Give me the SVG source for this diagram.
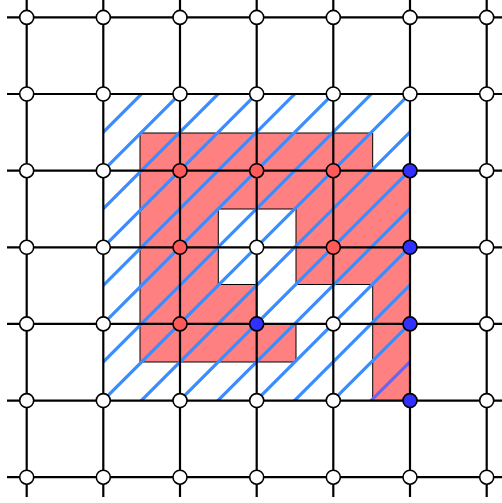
<svg xmlns="http://www.w3.org/2000/svg" width="502" height="503" viewBox="0 0 502 503">
<defs>
<clipPath id="hatchClip"><rect x="103.3" y="94" width="306.7" height="306.6"/></clipPath>
<style>
.grid line{stroke:#000;stroke-width:2.2;}
.node{stroke:#000;stroke-width:1.6;}
.w{fill:#fff;}
.r{fill:#ff5a5a;}
.b{fill:#3030ff;}
.stripe{fill:none;stroke:#3a8cff;stroke-width:3.2;}
.stripe2{fill:none;stroke:#6a64f0;stroke-width:3.2;}
.region{fill:#ff8080;stroke:#000;stroke-width:1;}
</style>
</defs>
<rect width="502" height="503" fill="#fff"/>
<g id="region">
<polygon class="region" points="140,133 372.7,133 372.7,170.7 410,170.7 410,400.6 372.7,400.6 372.7,284.5 296,284.5 296,209 218.3,209 218.3,284.5 256.7,284.5 256.7,323.9 296,323.9 296,362 140,362"/>
</g>
<g id="hatch" clip-path="url(#hatchClip)">
<path class="stripe" d="M-264.5,500L235.5,0M-226.2,500L273.8,0M-187.9,500L312.1,0M-149.6,500L350.4,0M-111.3,500L388.7,0M-73,500L427,0M-34.7,500L465.3,0M3.6,500L503.6,0M41.9,500L541.9,0M80.2,500L580.2,0M118.5,500L618.5,0M156.8,500L656.8,0M195.1,500L695.1,0M233.4,500L733.4,0"/>
<path class="stripe2" d="M271.7,500L771.7,0"/>
</g>
<g id="connectors" class="grid">
<line x1="7" y1="17.4" x2="506" y2="17.4"/>
<line x1="7" y1="94" x2="506" y2="94"/>
<line x1="7" y1="170.7" x2="506" y2="170.7"/>
<line x1="7" y1="247.3" x2="506" y2="247.3"/>
<line x1="7" y1="323.9" x2="506" y2="323.9"/>
<line x1="7" y1="400.6" x2="506" y2="400.6"/>
<line x1="7" y1="477.2" x2="506" y2="477.2"/>
<line x1="26.7" y1="-3" x2="26.7" y2="497"/>
<line x1="103.3" y1="-3" x2="103.3" y2="497"/>
<line x1="180" y1="-3" x2="180" y2="497"/>
<line x1="256.7" y1="-3" x2="256.7" y2="497"/>
<line x1="333.3" y1="-3" x2="333.3" y2="497"/>
<line x1="410" y1="-3" x2="410" y2="497"/>
<line x1="486.7" y1="-3" x2="486.7" y2="497"/>
</g>
<g id="nodes">
<g id="n00"><circle class="node w" cx="26.7" cy="17.4" r="7"/></g>
<g id="n10"><circle class="node w" cx="103.3" cy="17.4" r="7"/></g>
<g id="n20"><circle class="node w" cx="180" cy="17.4" r="7"/></g>
<g id="n30"><circle class="node w" cx="256.7" cy="17.4" r="7"/></g>
<g id="n40"><circle class="node w" cx="333.3" cy="17.4" r="7"/></g>
<g id="n50"><circle class="node w" cx="410" cy="17.4" r="7"/></g>
<g id="n60"><circle class="node w" cx="486.7" cy="17.4" r="7"/></g>
<g id="n01"><circle class="node w" cx="26.7" cy="94" r="7"/></g>
<g id="n11"><circle class="node w" cx="103.3" cy="94" r="7"/></g>
<g id="n21"><circle class="node w" cx="180" cy="94" r="7"/></g>
<g id="n31"><circle class="node w" cx="256.7" cy="94" r="7"/></g>
<g id="n41"><circle class="node w" cx="333.3" cy="94" r="7"/></g>
<g id="n51"><circle class="node w" cx="410" cy="94" r="7"/></g>
<g id="n61"><circle class="node w" cx="486.7" cy="94" r="7"/></g>
<g id="n02"><circle class="node w" cx="26.7" cy="170.7" r="7"/></g>
<g id="n12"><circle class="node w" cx="103.3" cy="170.7" r="7"/></g>
<g id="n22"><circle class="node r" cx="180" cy="170.7" r="7"/></g>
<g id="n32"><circle class="node r" cx="256.7" cy="170.7" r="7"/></g>
<g id="n42"><circle class="node r" cx="333.3" cy="170.7" r="7"/></g>
<g id="n52"><circle class="node b" cx="410" cy="170.7" r="7"/></g>
<g id="n62"><circle class="node w" cx="486.7" cy="170.7" r="7"/></g>
<g id="n03"><circle class="node w" cx="26.7" cy="247.3" r="7"/></g>
<g id="n13"><circle class="node w" cx="103.3" cy="247.3" r="7"/></g>
<g id="n23"><circle class="node r" cx="180" cy="247.3" r="7"/></g>
<g id="n33"><circle class="node w" cx="256.7" cy="247.3" r="7"/></g>
<g id="n43"><circle class="node r" cx="333.3" cy="247.3" r="7"/></g>
<g id="n53"><circle class="node b" cx="410" cy="247.3" r="7"/></g>
<g id="n63"><circle class="node w" cx="486.7" cy="247.3" r="7"/></g>
<g id="n04"><circle class="node w" cx="26.7" cy="323.9" r="7"/></g>
<g id="n14"><circle class="node w" cx="103.3" cy="323.9" r="7"/></g>
<g id="n24"><circle class="node r" cx="180" cy="323.9" r="7"/></g>
<g id="n34"><circle class="node b" cx="256.7" cy="323.9" r="7"/></g>
<g id="n44"><circle class="node w" cx="333.3" cy="323.9" r="7"/></g>
<g id="n54"><circle class="node b" cx="410" cy="323.9" r="7"/></g>
<g id="n64"><circle class="node w" cx="486.7" cy="323.9" r="7"/></g>
<g id="n05"><circle class="node w" cx="26.7" cy="400.6" r="7"/></g>
<g id="n15"><circle class="node w" cx="103.3" cy="400.6" r="7"/></g>
<g id="n25"><circle class="node w" cx="180" cy="400.6" r="7"/></g>
<g id="n35"><circle class="node w" cx="256.7" cy="400.6" r="7"/></g>
<g id="n45"><circle class="node w" cx="333.3" cy="400.6" r="7"/></g>
<g id="n55"><circle class="node b" cx="410" cy="400.6" r="7"/></g>
<g id="n65"><circle class="node w" cx="486.7" cy="400.6" r="7"/></g>
<g id="n06"><circle class="node w" cx="26.7" cy="477.2" r="7"/></g>
<g id="n16"><circle class="node w" cx="103.3" cy="477.2" r="7"/></g>
<g id="n26"><circle class="node w" cx="180" cy="477.2" r="7"/></g>
<g id="n36"><circle class="node w" cx="256.7" cy="477.2" r="7"/></g>
<g id="n46"><circle class="node w" cx="333.3" cy="477.2" r="7"/></g>
<g id="n56"><circle class="node w" cx="410" cy="477.2" r="7"/></g>
<g id="n66"><circle class="node w" cx="486.7" cy="477.2" r="7"/></g>
</g>
</svg>
